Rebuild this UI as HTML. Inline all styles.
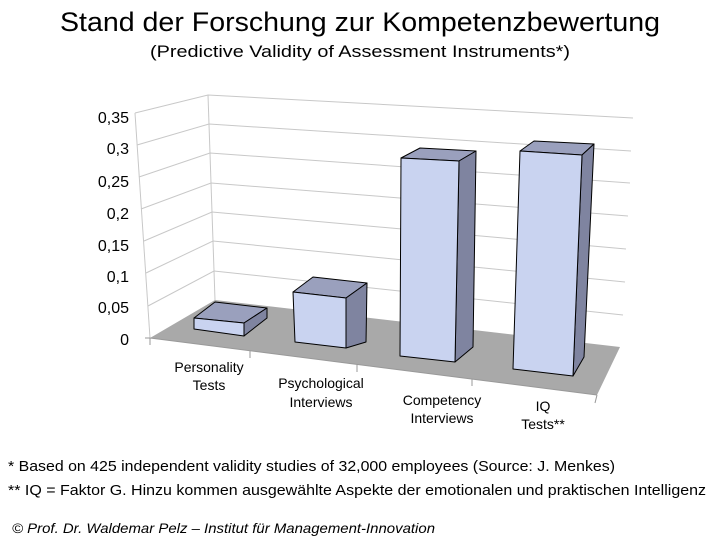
<!DOCTYPE html>
<html><head><meta charset="utf-8"><style>
html,body{margin:0;padding:0;background:#fff}
svg{display:block}
text{font-family:"Liberation Sans",Arial,sans-serif;fill:#000}
</style></head><body>
<svg width="720" height="540" viewBox="0 0 720 540" xmlns="http://www.w3.org/2000/svg">
<text x="360" y="31" font-size="27" text-anchor="middle" textLength="600" lengthAdjust="spacingAndGlyphs">Stand der Forschung zur Kompetenzbewertung</text>
<text x="360" y="57" font-size="17" text-anchor="middle" textLength="420" lengthAdjust="spacingAndGlyphs">(Predictive Validity of Assessment Instruments*)</text>

<!-- walls -->
<g stroke="#c8c8c8" stroke-width="1" fill="none">
<polyline points="135,113 208,95 633,118"/>
<polyline points="137,145 209,124 631,151"/>
<polyline points="139,177 210,153 630,183"/>
<polyline points="141,209 211,183 628,216"/>
<polyline points="144,241 212,212 626,249"/>
<polyline points="146,273 213,241 625,282"/>
<polyline points="148,306 214,271 623,315"/>
<line x1="135" y1="113" x2="150" y2="338"/>
<line x1="208" y1="95" x2="215" y2="300"/>
</g>
<polygon points="150,338 215,300 620,347 597,395" fill="#a9a9a9"/>
<g stroke="#999" stroke-width="1">
<line x1="150" y1="338" x2="597" y2="395"/>
<line x1="597" y1="395" x2="595" y2="403"/>
<line x1="150" y1="338" x2="150" y2="345"/>
<line x1="250" y1="351" x2="250" y2="358"/>
<line x1="357" y1="364" x2="357" y2="372"/>
<line x1="472" y1="379" x2="472" y2="386"/>
<line x1="145" y1="338" x2="150" y2="338"/>
</g>

<!-- bars -->
<g stroke="#000" stroke-width="1" stroke-linejoin="round">
<!-- bar1 -->
<polygon points="194,318 215,302 267,308 244,323" fill="#9aa0bd"/>
<polygon points="244,323 267,308 267,318 244,336" fill="#7f84a0"/>
<polygon points="194,318 244,323 244,336 194,329" fill="#c9d3f0"/>
<!-- bar2 -->
<polygon points="293,292 313,277 367,283 346,298" fill="#9aa0bd"/>
<polygon points="346,298 367,283 366,342 346,348" fill="#7f84a0"/>
<polygon points="293,292 346,298 346,348 295,342" fill="#c9d3f0"/>
<!-- bar3 -->
<polygon points="401,158 420,148 476,151 459,161" fill="#9aa0bd"/>
<polygon points="459,161 476,151 473,347 455,362" fill="#7f84a0"/>
<polygon points="401,158 459,161 455,362 400,356" fill="#c9d3f0"/>
<!-- bar4 -->
<polygon points="520,151 534,141 594,144 582,155" fill="#9aa0bd"/>
<polygon points="582,155 594,144 584,357 573,376" fill="#7f84a0"/>
<polygon points="520,151 582,155 573,376 513,369" fill="#c9d3f0"/>
</g>

<!-- y labels -->
<g font-size="16" text-anchor="end">
<text x="129" y="123">0,35</text>
<text x="129" y="154">0,3</text>
<text x="129" y="187">0,25</text>
<text x="129" y="219">0,2</text>
<text x="129" y="251">0,15</text>
<text x="129" y="282">0,1</text>
<text x="129" y="313">0,05</text>
<text x="129" y="345">0</text>
</g>
<g font-size="14" text-anchor="middle">
<text x="209" y="372">Personality</text>
<text x="209" y="390">Tests</text>
<text x="321" y="388">Psychological</text>
<text x="321" y="407">Interviews</text>
<text x="442" y="405">Competency</text>
<text x="442" y="423">Interviews</text>
<text x="543" y="411">IQ</text>
<text x="543" y="429">Tests**</text>
</g>

<text x="8" y="471" font-size="15" textLength="607" lengthAdjust="spacingAndGlyphs">* Based on 425 independent validity studies of 32,000 employees (Source: J. Menkes)</text>
<text x="8" y="495" font-size="15" textLength="698" lengthAdjust="spacingAndGlyphs">** IQ = Faktor G. Hinzu kommen ausgewählte Aspekte der emotionalen und praktischen Intelligenz</text>
<text x="12" y="533" font-size="14" font-style="italic" textLength="423" lengthAdjust="spacingAndGlyphs">© Prof. Dr. Waldemar Pelz – Institut für Management-Innovation</text>
</svg>
</body></html>
